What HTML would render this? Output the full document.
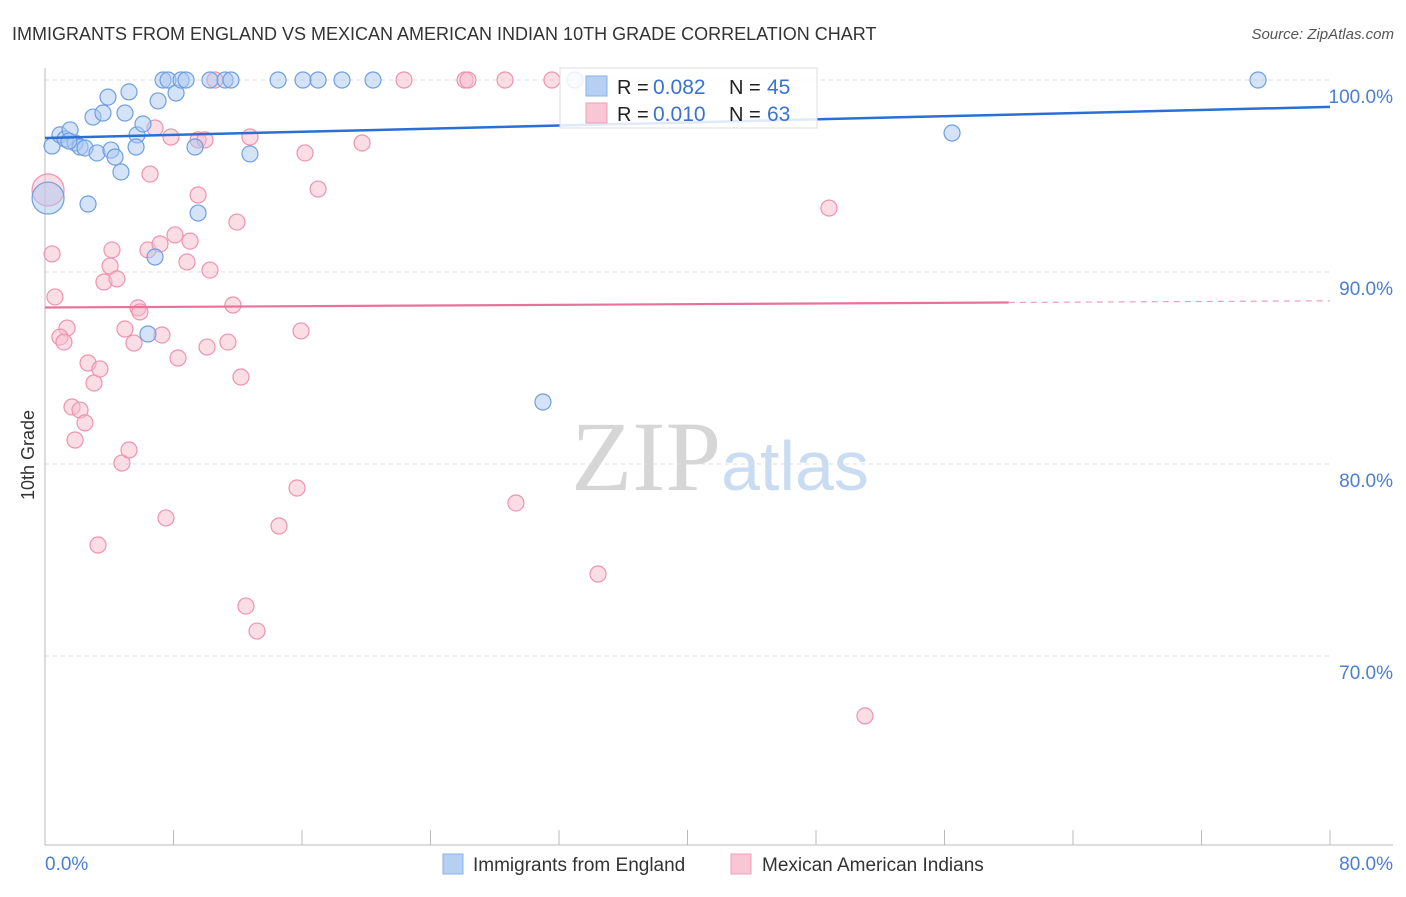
<!DOCTYPE html>
<html><head><meta charset="utf-8"><style>
body{margin:0;background:#fff;font-family:"Liberation Sans",sans-serif}
svg text{font-family:"Liberation Sans",sans-serif}
</style></head><body>
<svg id="c" width="1406" height="892" xmlns="http://www.w3.org/2000/svg">
<text x="12" y="40" font-size="18" fill="#333">IMMIGRANTS FROM ENGLAND VS MEXICAN AMERICAN INDIAN 10TH GRADE CORRELATION CHART</text>
<text x="1394" y="39" font-size="15" fill="#555" font-style="italic" text-anchor="end">Source: ZipAtlas.com</text>
<text x="34" y="455" font-size="18" fill="#333" text-anchor="middle" transform="rotate(-90 34 455)">10th Grade</text>
<text x="720" y="490" font-size="100" fill="#ddd" text-anchor="middle" font-family="Liberation Serif"><tspan fill="#d6d6d6" font-family="Liberation Serif">ZIP</tspan><tspan fill="#c9dcf2" font-family="Liberation Sans" font-size="70">atlas</tspan></text>
<g id="grid"></g><g id="pts"></g><g id="lines"></g>
<g>
<rect x="560" y="68" width="257" height="60" fill="#fff" fill-opacity="0.85" stroke="#ddd"/>
<rect x="586" y="76" width="21" height="20" fill="#b5d0f3" stroke="#8ab2e6"/>
<rect x="586" y="103" width="21" height="20" fill="#f8c6d5" stroke="#ef9fb8"/>
<text x="617" y="94" font-size="20" fill="#222">R =</text>
<text x="653" y="94" font-size="21" fill="#3a72d0">0.082</text>
<text x="729" y="94" font-size="20" fill="#222">N =</text>
<text x="767" y="94" font-size="21" fill="#3a72d0">45</text>
<text x="617" y="121" font-size="20" fill="#222">R =</text>
<text x="653" y="121" font-size="21" fill="#3a72d0">0.010</text>
<text x="729" y="121" font-size="20" fill="#222">N =</text>
<text x="767" y="121" font-size="21" fill="#3a72d0">63</text>
</g>
<g>
<rect x="443" y="854" width="20" height="20" fill="#b5d0f3" stroke="#8ab2e6"/>
<text x="473" y="871" font-size="19" fill="#333">Immigrants from England</text>
<rect x="731" y="854" width="20" height="20" fill="#f8c6d5" stroke="#ef9fb8"/>
<text x="762" y="871" font-size="19" fill="#333">Mexican American Indians</text>
</g>
</svg>
<script>
const blueX=[0.44,0.93,1.25,1.56,1.87,2.18,2.49,3.24,2.99,3.61,3.92,4.11,4.36,4.73,4.98,5.23,5.73,5.67,6.10,7.04,7.35,7.66,8.16,8.47,8.78,9.34,9.53,10.27,11.21,11.58,12.76,14.51,16.06,17.0,18.49,20.42,33.0,75.52,56.47,31.0,6.85,6.41,2.68,0.19,1.49];
const blueY=[96.56,97.14,96.93,97.40,96.72,96.51,96.46,96.20,98.07,98.28,99.11,96.35,95.99,95.21,98.28,99.38,97.14,96.51,97.71,98.91,100,100,99.32,100,100,96.51,93.07,100,100,100,96.15,100,100,100,100,100,100,100,97.24,83.23,90.78,86.77,93.54,93.85,96.82];
const pinkX=[0.19,0.44,0.62,1.37,0.93,1.18,2.68,3.05,3.42,1.68,2.18,2.49,1.87,3.30,3.67,4.17,4.05,4.48,4.98,5.54,5.79,5.91,4.79,5.23,6.41,7.16,8.09,7.28,7.53,8.28,8.84,9.03,10.27,10.09,11.39,11.70,12.20,11.95,9.53,9.53,9.96,6.54,6.85,7.84,12.76,16.19,17.0,15.94,15.69,14.57,12.51,13.20,19.74,22.35,26.15,26.33,28.64,31.56,10.58,29.32,34.43,48.81,51.05];
const pinkY=[94.27,90.94,88.70,87.08,86.61,86.35,85.26,84.22,84.95,82.97,82.81,82.14,81.25,75.78,89.48,91.15,90.31,89.64,87.03,86.30,88.13,87.92,80.05,80.73,91.15,91.46,91.93,86.72,77.19,85.52,90.52,91.61,90.10,86.09,86.35,88.28,84.53,92.60,94.01,96.88,96.88,95.10,97.50,97.03,97.03,96.20,94.32,86.93,78.75,76.77,72.60,71.30,96.72,100,100,100,100,100,100,77.97,74.27,93.33,66.88];
const yTicks=[100,90,80,70];
const xTickLabels=["0.0%","80.0%"];
const blueTrend=[96.98,98.6];
const pinkTrend=[88.15,88.5];
const NS="http://www.w3.org/2000/svg";
const X=v=>45+v*1285/80, Y=v=>80+(100-v)*19.2;
function mk(p,t,a){const e=document.createElementNS(NS,t);for(const k in a)e.setAttribute(k,a[k]);p.appendChild(e);return e;}
const g=document.getElementById('grid');
yTicks.forEach(t=>{
 const l=mk(g,'line',{x1:45,x2:1330,y1:Y(t),y2:Y(t),stroke:'#ddd','stroke-dasharray':'4,4'});
 
 
 const tx=mk(g,'text',{x:1393,y:Y(t)+23,'font-size':19,fill:'#4a7fd4','text-anchor':'end'});tx.textContent=t.toFixed(1)+'%';
 
 
});
const ax=mk(g,'line',{x1:45,x2:1393,y1:845,y2:845,stroke:'#bbb'});


const ay=mk(g,'line',{x1:45,x2:45,y1:68,y2:845,stroke:'#bbb'});


for(let i=0;i<=10;i++){const t=mk(g,'line',{x1:X(i*8),x2:X(i*8),y1:830,y2:845,stroke:'#bbb'});
 
 }
[[0,'start',45],[80,'end',1393]].forEach((d,i)=>{const t=mk(g,'text',{x:d[2],y:870,'font-size':19,fill:'#4a7fd4','text-anchor':d[1]});t.textContent=xTickLabels[i];
 
 });
const P=document.getElementById('pts');
function dots(xs,ys,fill,stroke,name){xs.forEach((x,i)=>{const big=(x<0.3&&ys[i]>93.5&&ys[i]<94.5);
 const c=mk(P,'circle',{cx:X(x),cy:Y(ys[i]),r:big?16:8,fill:fill,'fill-opacity':0.5,stroke:stroke,'stroke-width':1.2});
 
 });}
dots(pinkX,pinkY,'#f7bccd','#ee93b0','point-mexican');
dots(blueX,blueY,'#a9c8f0','#6f9fe0','point-england');
const L=document.getElementById('lines');
const bl=mk(L,'line',{x1:X(0),y1:Y(blueTrend[0]),x2:X(80),y2:Y(blueTrend[1]),stroke:'#2a6fd6','stroke-width':2.5});


const pm=v=>pinkTrend[0]+(pinkTrend[1]-pinkTrend[0])*v/80;
const pl=mk(L,'line',{x1:X(0),y1:Y(pm(0)),x2:X(60),y2:Y(pm(60)),stroke:'#e8739a','stroke-width':2.2});


const pd=mk(L,'line',{x1:X(60),y1:Y(pm(60)),x2:X(80),y2:Y(pm(80)),stroke:'#e8a0b8','stroke-width':1.2,'stroke-dasharray':'6,5'});


</script>
</body></html>
